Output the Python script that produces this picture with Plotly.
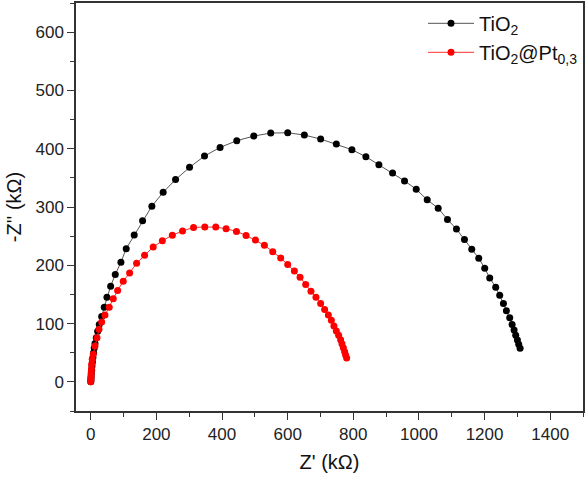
import plotly.graph_objects as go

# TiO2 series (Z' in kOhm, -Z'' in kOhm)
tio2_zre = [0, 0.5, 1.0, 1.8, 2.8, 3.8, 5.0, 6.5, 8.5, 10.5, 12.8, 16.7, 21.0, 25.9,
            33.2, 41.1, 49.3, 60.6, 74.6, 91.9, 108.0, 132.4, 157.9, 186.2, 220.6,
            258.4, 301.0, 346.6, 394.1, 444.9, 496.7, 548.4, 600.1, 650.9, 700.5,
            748.3, 795.8, 838.4, 878.0, 919.7, 956.2, 991.8, 1025.3, 1058.7, 1087.0,
            1114.4, 1138.8, 1161.0, 1182.3, 1200.5, 1215.8, 1234.0, 1246.2, 1257.5,
            1266.6, 1276.7, 1284.0, 1290.0, 1294.9, 1300.1, 1304.1, 1308.3]
tio2_zim = [0, 3, 8, 14, 20, 27, 34, 42, 50, 58, 66, 75.7, 86.7, 98.6,
            112.3, 128.2, 145.3, 164.1, 184.1, 205.1, 228.5, 251.8, 276.4, 301.4, 325.3,
            347.0, 368.0, 387.5, 402.2, 413.7, 421.7, 426.8, 427.4, 423.4, 416.6,
            408.0, 398.3, 386.3, 372.6, 358.5, 344.8, 330.4, 312.3, 297.9, 278.6,
            262.1, 244.4, 227.4, 212.0, 194.9, 178.3, 162.4, 148.7, 134.5,
            121.9, 109.9, 98.6, 88.9, 79.8, 71.8, 64.4, 57.6]

# TiO2@Pt0,3 series
pt_zre = [0, 0.3, 0.6, 1.0, 1.5, 2.0, 2.7, 4.5, 7.6, 12.8, 18.9, 25.0, 33.2, 43.2,
          56.3, 68.5, 81.9, 98.9, 118.4, 139.7, 164.0, 190.2, 218.2, 248.6, 279.7,
          313.1, 347.5, 381.0, 412.4, 444.0, 473.2, 501.8, 529.2, 554.5, 578.8,
          600.1, 620.5, 637.8, 654.9, 671.0, 686.2, 700.5, 712.7, 724.0, 733.1,
          741.0, 748.3, 755.3, 761.4, 765.4, 769.6, 773.6, 776.6, 779.7]
pt_zim = [0, 4, 8, 12, 17, 22, 30.3, 39, 47.4, 61.5, 75.7, 90.1, 102.6, 114.5,
          128.2, 142.4, 156.8, 172.6, 186.8, 203.4, 217.1, 231.3, 242.2, 251.6, 258.8,
          265.0, 265.5, 265.5, 262.7, 258.1, 251.3, 243.2, 234.2, 223.4, 212.5,
          201.2, 190.4, 179.5, 167.0, 155.6, 145.3, 134.5, 124.3, 114.5, 105.5,
          95.7, 87.2, 79.8, 72.3, 65.5, 58.6, 51.8, 46.2, 41.0]

series_names = ["TiO<sub>2</sub>", "TiO<sub>2</sub>@Pt<sub>0,3</sub>"]
x_ticks = [0, 200, 400, 600, 800, 1000, 1200, 1400]
y_ticks = [0, 100, 200, 300, 400, 500, 600]

FONT = "Liberation Sans, Arial, sans-serif"

fig = go.Figure()
fig.add_trace(go.Scatter(
    x=tio2_zre, y=tio2_zim, mode="lines+markers", name=series_names[0],
    line=dict(color="#555555", width=1),
    marker=dict(color="black", size=7, symbol="circle")))
fig.add_trace(go.Scatter(
    x=pt_zre, y=pt_zim, mode="lines+markers", name=series_names[1],
    line=dict(color="#ff3030", width=1),
    marker=dict(color="#ff0000", size=7, symbol="circle")))

axis_common = dict(
    showgrid=False, zeroline=False, showline=True, linecolor="#333333", linewidth=1.5,
    mirror=True, ticks="outside", ticklen=7, tickwidth=1.2, tickcolor="#333333",
    tickfont=dict(family=FONT, size=17, color="#222222"),
)

fig.update_xaxes(
    range=[-45, 1500], tickvals=x_ticks,
    minor=dict(ticks="outside", ticklen=4, tickwidth=1.2, tickcolor="#333333", dtick=100, tick0=0),
    title=dict(text="Z' (kΩ)", font=dict(family=FONT, size=20, color="#111111"), standoff=12),
    **axis_common)
fig.update_yaxes(
    range=[-50, 650], tickvals=y_ticks,
    minor=dict(ticks="outside", ticklen=4, tickwidth=1.2, tickcolor="#333333", dtick=50, tick0=0),
    title=dict(text="-Z'' (kΩ)", font=dict(family=FONT, size=20, color="#111111"), standoff=8),
    **axis_common)

fig.update_layout(
    width=586, height=479,
    margin=dict(l=76, r=2, t=1, b=68),
    plot_bgcolor="white", paper_bgcolor="white",
    font=dict(family=FONT),
    legend=dict(x=1.0, y=0.998, xanchor="right", yanchor="top",
                bgcolor="rgba(0,0,0,0)", borderwidth=0,
                font=dict(family=FONT, size=20, color="#111111"),
                itemwidth=46, tracegroupgap=2),
)

fig.write_html("out.html")
